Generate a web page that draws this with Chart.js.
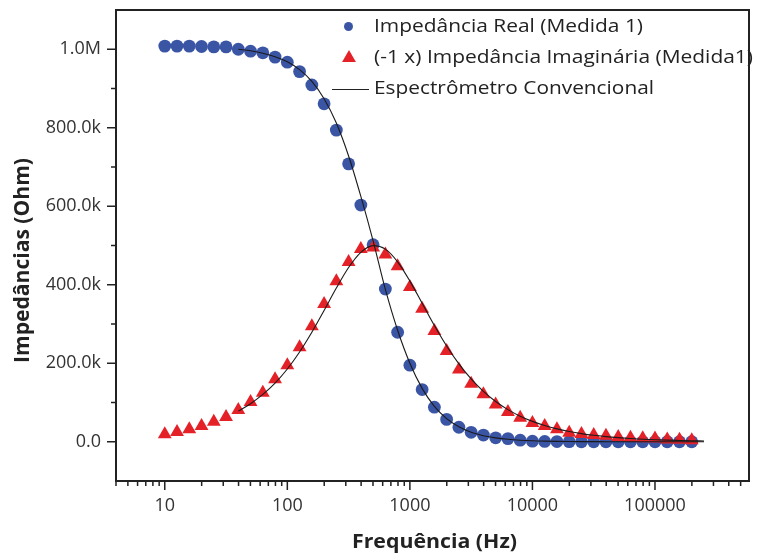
<!DOCTYPE html>
<html><head><meta charset="utf-8">
<script src="https://cdn.jsdelivr.net/npm/chart.js@4.4.1/dist/chart.umd.min.js"></script>
<style>html,body{margin:0;padding:0;background:#fff;overflow:hidden}</style>
</head><body>
<canvas id="c" width="757" height="555"></canvas>
<script>
// ---- data ----
const freqHz = [10, 12.59, 15.85, 19.95, 25.12, 31.62, 39.81, 50.12, 63.10, 79.43,
  100, 125.9, 158.5, 199.5, 251.2, 316.2, 398.1, 501.2, 631.0, 794.3,
  1000, 1259, 1585, 1995, 2512, 3162, 3981, 5012, 6310, 7943,
  10000, 12589, 15849, 19953, 25119, 31623, 39811, 50119, 63096, 79433,
  100000, 125893, 158489, 199526];
const realOhm = [1008000, 1008000, 1008000, 1007000, 1006000, 1006000, 1000000, 995000, 991000, 980000,
  967000, 943000, 909000, 861000, 794000, 708000, 603000, 502000, 389000, 279000,
  195000, 133000, 88000, 57000, 37000, 24000, 17000, 10000, 8000, 4000,
  1500, 800, 400, 200, 0, 0, 0, 0, 0, 0,
  0, 0, 0, 0];
const imagOhm = [19000, 25000, 32000, 40000, 51000, 63000, 81000, 101000, 125000, 159000,
  195000, 241000, 294000, 351000, 409000, 458000, 491000, 495000, 477000, 447000,
  394000, 339000, 282000, 231000, 184000, 148000, 121000, 95000, 76000, 61000,
  48000, 40000, 32000, 23000, 20000, 17000, 15000, 12000, 10000, 9000,
  8000, 6000, 5000, 4000];
const curveFreqHz = [39.81, 50.12, 63.10, 79.43, 100, 125.9, 158.5, 199.5, 251.2, 316.2,
  398.1, 501.2, 631.0, 794.3, 1000, 1259, 1585, 1995, 2512, 3162,
  3981, 5012, 6310, 7943, 10000, 12589, 15849, 19953, 25119, 31623,
  39811, 50119, 63096, 79433, 100000, 125893, 158489, 199526, 251189];
const curveRealOhm = [1000000, 996000, 990000, 981000, 968000, 948000, 918000, 874000, 812000, 728000,
  625000, 512000, 388000, 284000, 200000, 136000, 90000, 59000, 38000, 24000,
  15500, 9900, 6300, 4000, 2500, 1600, 1000, 600, 400, 250,
  160, 100, 60, 40, 25, 16, 10, 6, 4];
const curveImagOhm = [78000, 97000, 120500, 149500, 185400, 228700, 278900, 334500, 391600, 443900,
  482700, 499700, 490800, 458300, 409300, 352900, 296200, 244100, 198500, 160100,
  128400, 102600, 81900, 65200, 51900, 41300, 32800, 26100, 20700, 16400,
  13100, 10400, 8200, 6500, 5200, 4100, 3300, 2600, 2100];
const seriesNames = ['Impedância Real (Medida 1)', '(-1 x) Impedância Imaginária (Medida1)', 'Espectrômetro Convencional'];
const xTickValues = [10, 100, 1000, 10000, 100000];
const xTickLabels = ['10', '100', '1000', '10000', '100000'];
const yTickValues = [0, 200000, 400000, 600000, 800000, 1000000];
const yTickLabels = ['0.0', '200.0k', '400.0k', '600.0k', '800.0k', '1.0M'];
const xTitle = 'Frequência (Hz)';
const yTitle = 'Impedâncias (Ohm)';

const BLUE = '#3b55a5', RED = '#e52128', INK = '#222';

const pts = (xs, ys) => xs.map((x, i) => ({x: x, y: ys[i]}));

function fitText(ctx, str, x, y, font, targetW, rot) {
  ctx.save();
  ctx.font = font;
  const w = ctx.measureText(str).width;
  ctx.translate(x, y);
  if (rot) ctx.rotate(rot);
  ctx.scale(targetW / w, 1);
  ctx.textAlign = 'left';
  ctx.textBaseline = 'alphabetic';
  ctx.fillText(str, 0, 0);
  ctx.restore();
}

const decor = {
  id: 'decor',
  afterDraw(chart) {
    const ctx = chart.ctx, a = chart.chartArea, xs = chart.scales.x, ys = chart.scales.y;
    ctx.save();
    ctx.strokeStyle = INK;
    ctx.lineWidth = 2;
    ctx.strokeRect(a.left, a.top, a.right - a.left, a.bottom - a.top);
    ctx.lineWidth = 1.5;
    ctx.beginPath();
    for (let e = 0; e <= 6; e++) {
      for (let m = 1; m < 10; m++) {
        const v = m * Math.pow(10, e);
        if (v < xs.min || v > xs.max) continue;
        const px = xs.getPixelForValue(v);
        const len = (m === 1) ? 9 : 5;
        ctx.moveTo(px, a.bottom);
        ctx.lineTo(px, a.bottom + len);
      }
    }
    ys.ticks.forEach(t => {
      if (t.value <= ys.min || t.value >= ys.max) return;
      const py = ys.getPixelForValue(t.value);
      const len = yTickValues.includes(t.value) ? 9 : 5;
      ctx.moveTo(a.left - len, py);
      ctx.lineTo(a.left, py);
    });
    ctx.stroke();

    // axis titles
    ctx.fillStyle = '#222';
    fitText(ctx, xTitle, 352, 548, 'bold 20px "Open Sans"', 165, 0);
    fitText(ctx, yTitle, 28.5, 363, 'bold 21px "Open Sans"', 205, -Math.PI / 2);

    // legend
    ctx.fillStyle = BLUE;
    ctx.beginPath(); ctx.arc(348.5, 26.5, 4.5, 0, Math.PI * 2); ctx.fill();
    ctx.fillStyle = RED;
    const tr = 8, tx = 349, ty = 58;
    ctx.beginPath();
    ctx.moveTo(tx, ty - tr);
    ctx.lineTo(tx + tr * Math.sin(2 * Math.PI / 3), ty - tr * Math.cos(2 * Math.PI / 3));
    ctx.lineTo(tx + tr * Math.sin(4 * Math.PI / 3), ty - tr * Math.cos(4 * Math.PI / 3));
    ctx.closePath(); ctx.fill();
    ctx.strokeStyle = INK; ctx.lineWidth = 1;
    ctx.beginPath(); ctx.moveTo(332, 89.5); ctx.lineTo(369, 89.5); ctx.stroke();
    ctx.fillStyle = '#222';
    fitText(ctx, seriesNames[0], 374, 31.7, '19px "Open Sans"', 269, 0);
    fitText(ctx, seriesNames[1], 374, 62.5, '19px "Open Sans"', 379, 0);
    fitText(ctx, seriesNames[2], 374, 94.3, '19px "Open Sans"', 280, 0);
    ctx.restore();
  }
};

new Chart(document.getElementById('c'), {
  type: 'scatter',
  data: {
    datasets: [
      { label: seriesNames[2], data: pts(curveFreqHz, curveRealOhm), showLine: true, pointRadius: 0,
        borderColor: '#1a1a1a', borderWidth: 1.1, cubicInterpolationMode: 'monotone', order: 0 },
      { label: seriesNames[2] + ' (imag)', data: pts(curveFreqHz, curveImagOhm), showLine: true, pointRadius: 0,
        borderColor: '#1a1a1a', borderWidth: 1.1, cubicInterpolationMode: 'monotone', order: 0 },
      { label: seriesNames[1], data: pts(freqHz, imagOhm), pointStyle: 'triangle', pointRadius: 8,
        pointBackgroundColor: RED, pointBorderColor: RED, pointBorderWidth: 0, order: 1 },
      { label: seriesNames[0], data: pts(freqHz, realOhm), pointStyle: 'circle', pointRadius: 6.4,
        pointBackgroundColor: BLUE, pointBorderColor: BLUE, pointBorderWidth: 0, order: 2 }
    ]
  },
  options: {
    responsive: false,
    animation: false,
    devicePixelRatio: 1,
    layout: { padding: { left: 0, top: 10, right: 4, bottom: 0 } },
    plugins: { legend: { display: false }, tooltip: { enabled: false } },
    scales: {
      x: {
        type: 'logarithmic', min: 4, max: 585000,
        grid: { display: false, drawTicks: false },
        border: { display: false },
        afterBuildTicks: (s) => {
          const t = [];
          for (let e = 0; e <= 6; e++) for (let m = 1; m < 10; m++) {
            const v = m * Math.pow(10, e);
            if (v >= s.min && v <= s.max) t.push({ value: v });
          }
          s.ticks = t;
        },
        afterFit: (s) => { s.height = 74; s.paddingLeft = 0; s.paddingRight = 0; },
        ticks: {
          autoSkip: false, maxRotation: 0, padding: 14, color: '#333',
          font: { family: '"Open Sans"', size: 18 },
          callback: (v) => { const i = xTickValues.indexOf(v); return i >= 0 ? xTickLabels[i] : ''; }
        }
      },
      y: {
        type: 'linear', min: -100000, max: 1100000,
        grid: { display: false, drawTicks: false },
        border: { display: false },
        afterFit: (s) => { s.width = 116; s.paddingTop = 0; s.paddingBottom = 0; },
        ticks: {
          stepSize: 100000, autoSkip: false, padding: 15, color: '#333',
          font: { family: '"Open Sans"', size: 18 },
          callback: (v) => { const i = yTickValues.indexOf(v); return i >= 0 ? yTickLabels[i] : ''; }
        }
      }
    }
  },
  plugins: [decor]
});
</script>
</body></html>
